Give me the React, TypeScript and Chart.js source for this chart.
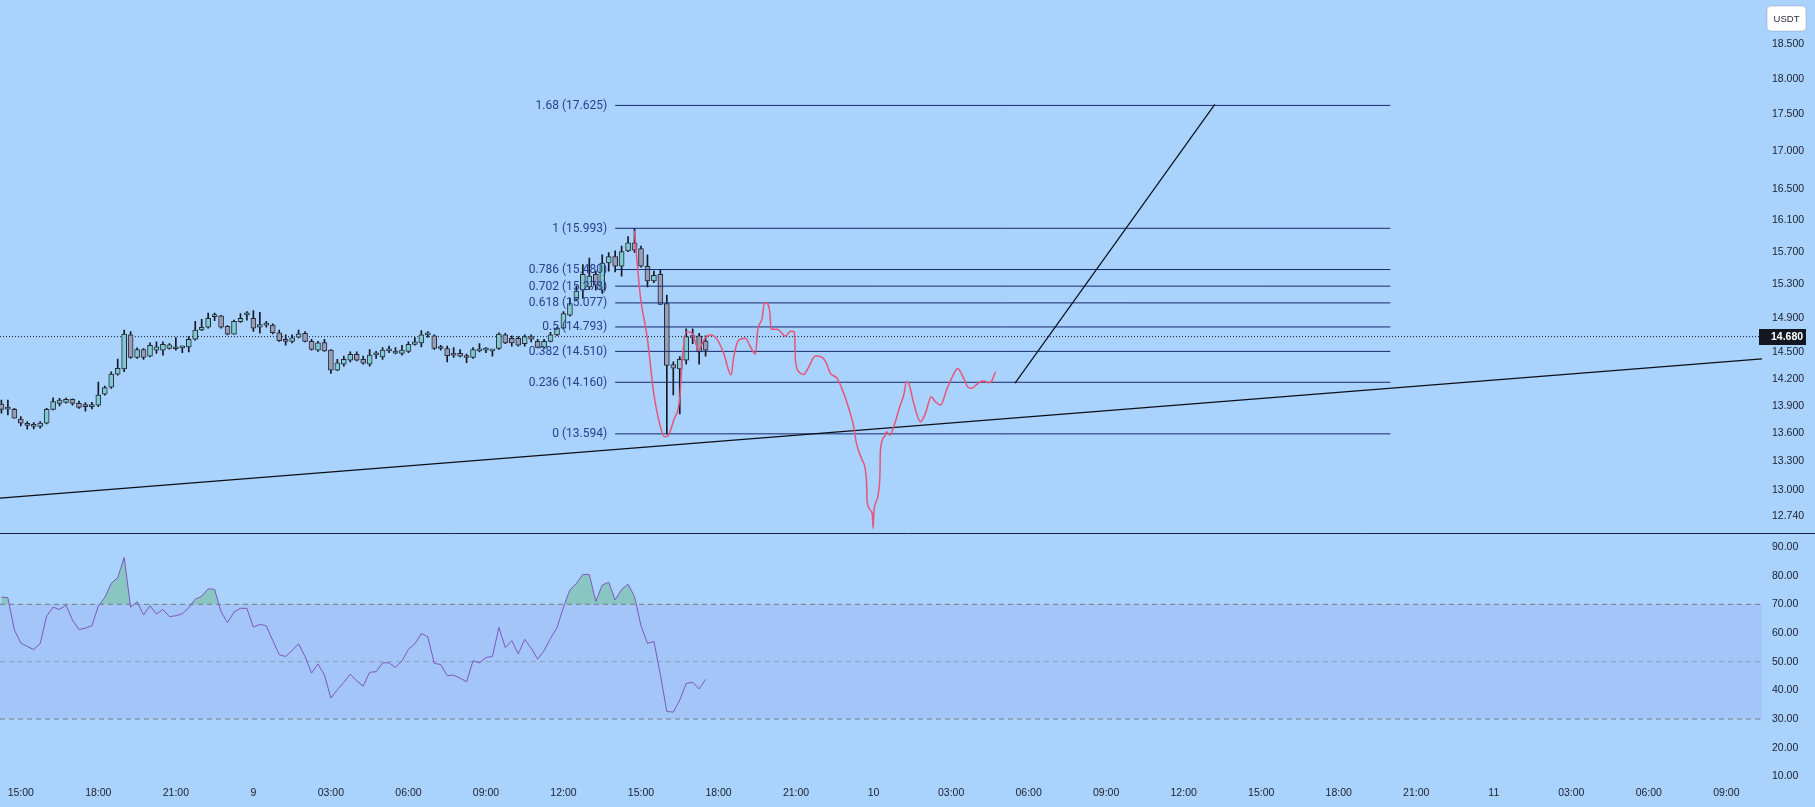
import { useEffect, useRef } from 'react';
import { Chart, registerables } from 'chart.js';

Chart.register(...registerables);

// ---------------- axes ----------------
// time in hours since day 8, 15:00
const TIME_TICKS = [0, 3, 6, 9, 12, 15, 18, 21, 24, 27, 30, 33, 36, 39, 42, 45, 48, 51, 54, 57, 60, 63, 66];
const TIME_LABELS = ['15:00', '18:00', '21:00', '9', '03:00', '06:00', '09:00', '12:00', '15:00', '18:00', '21:00', '10', '03:00', '06:00', '09:00', '12:00', '15:00', '18:00', '21:00', '11', '03:00', '06:00', '09:00'];
const X_MIN = -0.805;
const X_MAX = 67.38;

const PRICE_TICKS = [12.74, 13.0, 13.3, 13.6, 13.9, 14.2, 14.5, 14.9, 15.3, 15.7, 16.1, 16.5, 17.0, 17.5, 18.0, 18.5];
const PRICE_MIN = 12.574;
const PRICE_MAX = 19.157;

const RSI_TICKS = [10, 20, 30, 40, 50, 60, 70, 80, 90];
const RSI_MIN = 6.98;
const RSI_MAX = 95.04;

// ---------------- candles (15 min) ----------------
const CANDLE_START = -0.75;
const CANDLE_STEP = 0.25;

const OPEN = [13.918, 13.871, 13.860, 13.755, 13.695, 13.675, 13.675, 13.710, 13.860, 13.926,
  13.937, 13.970, 13.926, 13.897, 13.890, 13.905, 14.028, 14.104, 14.252, 14.309,
  14.700, 14.440, 14.530, 14.456, 14.524, 14.524, 14.543, 14.555, 14.550, 14.562,
  14.650, 14.757, 14.790, 14.915, 14.925, 14.800, 14.710, 14.854, 14.935, 14.894,
  14.790, 14.815, 14.815, 14.725, 14.645, 14.626, 14.675, 14.720, 14.626, 14.524,
  14.610, 14.524, 14.297, 14.365, 14.410, 14.477, 14.420, 14.365, 14.470, 14.448,
  14.515, 14.490, 14.487, 14.510, 14.590, 14.607, 14.700, 14.690, 14.553, 14.543,
  14.480, 14.487, 14.456, 14.440, 14.515, 14.524, 14.515, 14.543, 14.700, 14.660,
  14.660, 14.600, 14.680, 14.626, 14.555, 14.626, 14.700, 14.780, 14.930, 15.120,
  15.230, 15.270, 15.420, 15.230, 15.560, 15.640, 15.520, 15.710, 15.810, 15.740,
  15.520, 15.340, 15.420, 15.070, 14.360, 14.310, 14.410, 14.685, 14.690, 14.630];

const HIGH = [13.962, 13.962, 13.871, 13.780, 13.726, 13.715, 13.726, 13.871, 13.988, 13.981,
  13.984, 13.977, 13.951, 13.933, 13.937, 14.162, 14.118, 14.278, 14.422, 14.757,
  14.738, 14.550, 14.543, 14.607, 14.620, 14.620, 14.600, 14.670, 14.570, 14.680,
  14.860, 14.882, 14.955, 14.955, 14.930, 14.810, 14.874, 14.950, 14.975, 14.985,
  14.966, 14.860, 14.830, 14.757, 14.700, 14.700, 14.757, 14.740, 14.648, 14.626,
  14.648, 14.532, 14.418, 14.456, 14.505, 14.505, 14.456, 14.532, 14.510, 14.555,
  14.570, 14.555, 14.580, 14.620, 14.670, 14.750, 14.740, 14.700, 14.580, 14.570,
  14.555, 14.532, 14.480, 14.555, 14.600, 14.555, 14.525, 14.725, 14.718, 14.690,
  14.680, 14.700, 14.700, 14.648, 14.648, 14.730, 14.790, 14.975, 15.130, 15.280,
  15.540, 15.620, 15.460, 15.660, 15.690, 15.710, 15.770, 15.890, 15.993, 15.770,
  15.660, 15.460, 15.480, 15.170, 14.390, 14.450, 14.770, 14.770, 14.720, 14.690];

const LOW = [13.817, 13.798, 13.763, 13.680, 13.644, 13.647, 13.655, 13.700, 13.853, 13.897,
  13.929, 13.907, 13.871, 13.840, 13.864, 13.890, 14.017, 14.092, 14.240, 14.278,
  14.430, 14.430, 14.418, 14.448, 14.487, 14.468, 14.535, 14.524, 14.494, 14.505,
  14.640, 14.750, 14.780, 14.866, 14.780, 14.700, 14.710, 14.847, 14.874, 14.740,
  14.720, 14.790, 14.713, 14.626, 14.580, 14.607, 14.665, 14.618, 14.524, 14.510,
  14.510, 14.260, 14.290, 14.340, 14.390, 14.400, 14.365, 14.340, 14.430, 14.418,
  14.495, 14.480, 14.468, 14.495, 14.580, 14.562, 14.670, 14.532, 14.524, 14.390,
  14.440, 14.448, 14.380, 14.430, 14.505, 14.495, 14.456, 14.532, 14.600, 14.570,
  14.570, 14.570, 14.620, 14.550, 14.548, 14.618, 14.690, 14.770, 14.920, 15.110,
  15.130, 15.240, 15.230, 15.190, 15.460, 15.450, 15.400, 15.700, 15.690, 15.510,
  15.270, 15.320, 15.060, 13.594, 14.020, 13.810, 14.365, 14.600, 14.365, 14.456];

const CLOSE = [13.860, 13.862, 13.763, 13.710, 13.685, 13.695, 13.710, 13.860, 13.944, 13.962,
  13.970, 13.926, 13.882, 13.890, 13.905, 14.017, 14.100, 14.252, 14.317, 14.710,
  14.440, 14.530, 14.440, 14.580, 14.562, 14.590, 14.585, 14.540, 14.562, 14.648,
  14.757, 14.790, 14.894, 14.925, 14.790, 14.710, 14.860, 14.894, 14.945, 14.780,
  14.820, 14.820, 14.725, 14.633, 14.626, 14.667, 14.713, 14.626, 14.532, 14.607,
  14.515, 14.297, 14.380, 14.418, 14.475, 14.410, 14.375, 14.468, 14.475, 14.524,
  14.520, 14.510, 14.524, 14.590, 14.620, 14.700, 14.710, 14.543, 14.543, 14.460,
  14.468, 14.456, 14.440, 14.532, 14.537, 14.543, 14.520, 14.710, 14.607, 14.607,
  14.580, 14.680, 14.650, 14.555, 14.626, 14.700, 14.780, 14.950, 15.070, 15.220,
  15.420, 15.400, 15.290, 15.560, 15.640, 15.520, 15.700, 15.810, 15.720, 15.520,
  15.340, 15.410, 15.060, 14.350, 14.320, 14.420, 14.680, 14.670, 14.505, 14.524];

const RSI = [72.5, 72.3, 61.1, 56.5, 55.3, 54.2, 56.3, 65.9, 69.0, 68.2,
  69.7, 64.5, 61.2, 61.7, 62.5, 69.4, 72.4, 77.3, 79.3, 86.3,
  69.0, 70.9, 66.3, 69.5, 66.6, 68.2, 65.7, 66.0, 66.7, 68.8,
  71.8, 72.8, 75.4, 75.2, 67.4, 63.6, 67.3, 68.6, 68.6, 62.0,
  63.0, 62.5, 57.4, 52.4, 51.8, 53.9, 56.2, 51.8, 46.0, 49.2,
  45.3, 37.3, 40.2, 42.8, 45.6, 43.3, 41.5, 46.3, 46.5, 49.6,
  49.6, 48.0, 50.2, 54.3, 56.2, 59.8, 58.7, 49.4, 49.0, 45.1,
  45.3, 44.2, 43.0, 50.3, 49.6, 51.4, 51.8, 61.9, 54.9, 57.3,
  52.7, 57.8, 54.7, 50.9, 53.8, 58.1, 61.9, 69.0, 75.0, 77.3,
  80.4, 80.4, 71.0, 76.7, 77.7, 71.5, 75.2, 77.0, 72.7, 62.5,
  56.4, 57.0, 45.5, 32.6, 32.4, 36.6, 42.4, 42.8, 40.5, 43.8];

const LAST_PRICE = 14.68;

// ---------------- drawings ----------------
const FIB_LEVELS = [1.68, 1, 0.786, 0.702, 0.618, 0.5, 0.382, 0.236, 0];
const FIB_PRICES = [17.625, 15.993, 15.48, 15.278, 15.077, 14.793, 14.51, 14.16, 13.594];
const FIB_T = [23, 53];

const TREND_LONG_T = [-0.805, 67.38];
const TREND_LONG_P = [12.92, 14.425];
const TREND_UP_T = [38.475, 46.204];
const TREND_UP_P = [14.15, 17.64];

const BRUSH_T = [23.746, 23.978, 24.238, 24.493, 24.752, 24.907, 25.035, 25.267, 25.499, 25.604,
  25.759, 25.979, 26.235, 26.428, 26.687, 26.947, 27.202, 27.488, 27.589, 27.783,
  28.042, 28.235, 28.429, 28.518, 28.688, 28.777, 28.882, 28.982, 29.036, 29.269,
  29.590, 29.783, 29.938, 29.977, 30.104, 30.298, 30.491, 30.750, 31.010, 31.176,
  31.331, 31.591, 31.846, 32.040, 32.233, 32.338, 32.558, 32.725, 32.752, 32.945,
  32.984, 33.007, 33.073, 33.239, 33.266, 33.421, 33.498, 33.626, 33.781, 34.013,
  34.168, 34.272, 34.361, 34.555, 34.814, 35.008, 35.228, 35.395, 35.588, 35.847,
  36.080, 36.258, 36.428, 36.622, 36.776, 37.009, 37.241, 37.458, 37.551, 37.717];
const BRUSH_P = [15.961, 15.150, 14.678, 14.036, 13.671, 13.563, 13.570, 13.744, 13.981, 14.448,
  14.737, 14.718, 14.524, 14.640, 14.698, 14.648, 14.487, 14.241, 14.448, 14.640,
  14.660, 14.563, 14.479, 14.757, 14.893, 15.078, 15.071, 14.971, 14.765, 14.765,
  14.687, 14.742, 14.734, 14.411, 14.278, 14.248, 14.334, 14.456, 14.441, 14.373,
  14.259, 14.204, 14.036, 13.871, 13.671, 13.492, 13.315, 13.107, 12.883, 12.766,
  12.615, 12.766, 12.867, 13.107, 13.421, 13.563, 13.617, 13.580, 13.671, 13.889,
  14.018, 14.165, 14.147, 13.926, 13.725, 13.816, 13.999, 13.943, 13.907, 14.092,
  14.241, 14.316, 14.241, 14.117, 14.092, 14.140, 14.177, 14.155, 14.165, 14.278];

// ---------------- styles ----------------
const BG = '#a9d2fd';
const TEXT = '#1b1f2b';
const UP = '#80cad2';
const DOWN = '#9a9db7';
const CANDLE_BORDER = '#262a36';
const WICK = '#161924';
const FIB_LINE = '#17296b';
const FIB_TEXT = '#29408e';
const FONT_AXIS = "'Liberation Sans', Arial, sans-serif";
const FONT_FIB = "Roboto, 'Noto Sans', sans-serif";

const overlayPlugin = {
  id: 'overlay',
  beforeDraw(chart: any) {
    const { ctx } = chart;
    ctx.save();
    ctx.fillStyle = BG;
    ctx.fillRect(0, 0, chart.width, chart.height);
    ctx.restore();
  },
  afterDraw(chart: any) {
    const { ctx } = chart;
    const xs = chart.scales.x;
    const ys = chart.scales.y;
    ctx.save();
    // pane separator
    const sepY = Math.round(ys.bottom) + 0.5;
    ctx.strokeStyle = '#18213f';
    ctx.lineWidth = 1;
    ctx.beginPath();
    ctx.moveTo(0, sepY);
    ctx.lineTo(chart.width, sepY);
    ctx.stroke();
    // fib labels
    ctx.font = `12px ${FONT_FIB}`;
    ctx.fillStyle = FIB_TEXT;
    ctx.textAlign = 'right';
    ctx.textBaseline = 'middle';
    const lx = xs.getPixelForValue(FIB_T[0]) - 8;
    FIB_LEVELS.forEach((lv, i) => {
      ctx.fillText(`${lv} (${FIB_PRICES[i].toFixed(3)})`, lx, ys.getPixelForValue(FIB_PRICES[i]) + 0.5);
    });
    // last price tag
    const py = ys.getPixelForValue(LAST_PRICE);
    ctx.fillStyle = '#131722';
    ctx.fillRect(xs.right - 3, Math.round(py) - 8, 47, 16);
    ctx.fillStyle = '#ffffff';
    ctx.font = `bold 10.5px ${FONT_AXIS}`;
    ctx.textAlign = 'left';
    ctx.fillText(LAST_PRICE.toFixed(3), xs.right + 9, py + 0.5);
    // currency badge
    const bx = 1767, by = 6, bw = 39, bh = 25, r = 4;
    ctx.beginPath();
    ctx.moveTo(bx + r, by);
    ctx.arcTo(bx + bw, by, bx + bw, by + bh, r);
    ctx.arcTo(bx + bw, by + bh, bx, by + bh, r);
    ctx.arcTo(bx, by + bh, bx, by, r);
    ctx.arcTo(bx, by, bx + bw, by, r);
    ctx.closePath();
    ctx.fillStyle = '#ffffff';
    ctx.fill();
    ctx.strokeStyle = 'rgba(120,130,150,0.35)';
    ctx.stroke();
    ctx.fillStyle = '#2a2e39';
    ctx.font = `9.5px ${FONT_AXIS}`;
    ctx.textAlign = 'center';
    ctx.fillText('USDT', bx + bw / 2, by + bh / 2 + 0.5);
    ctx.restore();
  },
};

function hLine(t0: number, t1: number, v: number) {
  return [{ x: t0, y: v }, { x: t1, y: v }];
}

export default function App() {
  const ref = useRef<HTMLCanvasElement>(null);

  useEffect(() => {
    const candleT = OPEN.map((_, i) => CANDLE_START + i * CANDLE_STEP);
    const wickData = candleT.map((t, i) => ({ x: t, y: [LOW[i], HIGH[i]] }));
    const bodyData = candleT.map((t, i) => ({ x: t, y: [OPEN[i], CLOSE[i]] }));
    const bodyColors = OPEN.map((o, i) => (CLOSE[i] >= o ? UP : DOWN));
    const rsiData = candleT.map((t, i) => ({ x: t, y: RSI[i] }));
    const brushData = BRUSH_T.map((t, i) => ({ x: t, y: BRUSH_P[i] }));

    const line = (extra: any) => ({
      type: 'line',
      pointRadius: 0,
      borderWidth: 1,
      fill: false,
      tension: 0,
      ...extra,
    });

    const datasets: any[] = [
      line({ yAxisID: 'y2', data: hLine(X_MIN, X_MAX, 70), borderWidth: 0, borderColor: 'rgba(0,0,0,0)',
        fill: { target: { value: 30 } }, backgroundColor: 'rgba(126,87,194,0.1)', order: 100 }),
      line({ yAxisID: 'y2', data: hLine(X_MIN, X_MAX, 70), borderColor: '#787b86', borderDash: [5, 4], order: 90 }),
      line({ yAxisID: 'y2', data: hLine(X_MIN, X_MAX, 50), borderColor: 'rgba(120,123,134,0.5)', borderDash: [5, 4], order: 90 }),
      line({ yAxisID: 'y2', data: hLine(X_MIN, X_MAX, 30), borderColor: '#787b86', borderDash: [5, 4], order: 90 }),
      line({ yAxisID: 'y', data: hLine(X_MIN, X_MAX, LAST_PRICE), borderColor: '#131722', borderDash: [1, 2], order: 85 }),
      {
        type: 'bar', yAxisID: 'y', data: wickData, backgroundColor: WICK, barThickness: 1,
        grouped: false, borderWidth: 0, order: 60,
      },
      {
        type: 'bar', yAxisID: 'y', data: bodyData, backgroundColor: bodyColors, borderColor: CANDLE_BORDER,
        borderWidth: 1, borderSkipped: false, barThickness: 5, minBarLength: 2, grouped: false, order: 55,
      },
      ...FIB_PRICES.map((p) => line({ yAxisID: 'y', data: hLine(FIB_T[0], FIB_T[1], p), borderColor: FIB_LINE, order: 40 })),
      line({ yAxisID: 'y', data: TREND_LONG_T.map((t, i) => ({ x: t, y: TREND_LONG_P[i] })), borderColor: '#0c0f18', borderWidth: 1.2, order: 35 }),
      line({ yAxisID: 'y', data: TREND_UP_T.map((t, i) => ({ x: t, y: TREND_UP_P[i] })), borderColor: '#0c0f18', borderWidth: 1.2, order: 35 }),
      line({ yAxisID: 'y', data: brushData, borderColor: '#e9557a', borderWidth: 1.5, cubicInterpolationMode: 'monotone', order: 30 }),
      line({ yAxisID: 'y2', data: rsiData, borderColor: '#7e57c2', borderWidth: 1,
        fill: { target: { value: 70 }, above: 'rgba(76,175,80,0.35)', below: 'rgba(0,0,0,0)' }, order: 20 }),
    ];

    const axisFont = { family: FONT_AXIS, size: 10.5 };

    const chart = new Chart(ref.current as HTMLCanvasElement, {
      type: 'bar',
      data: { datasets },
      plugins: [overlayPlugin],
      options: {
        animation: false,
        responsive: false,
        devicePixelRatio: 1,
        events: [],
        layout: { padding: 0, autoPadding: false },
        plugins: { legend: { display: false }, tooltip: { enabled: false } },
        scales: {
          x: {
            type: 'linear', position: 'bottom', min: X_MIN, max: X_MAX, offset: false, bounds: 'data',
            grid: { display: false, drawTicks: false }, border: { display: false },
            afterBuildTicks: (s: any) => { s.ticks = TIME_TICKS.map((v) => ({ value: v })); },
            afterFit: (s: any) => { s.height = 22; s.paddingLeft = 0; s.paddingRight = 0; },
            ticks: {
              autoSkip: false, maxRotation: 0, minRotation: 0, padding: 2, color: TEXT, font: axisFont,
              callback: (v: any) => { const k = TIME_TICKS.indexOf(Number(v)); return k >= 0 ? TIME_LABELS[k] : ''; },
            },
          },
          y: {
            type: 'logarithmic', position: 'right', stack: 'panes', stackWeight: 532.5,
            min: PRICE_MIN, max: PRICE_MAX, bounds: 'data',
            grid: { display: false, drawTicks: false }, border: { display: false },
            afterBuildTicks: (s: any) => { s.ticks = PRICE_TICKS.map((v) => ({ value: v })); },
            afterFit: (s: any) => { s.width = 53; s.paddingTop = 0; s.paddingBottom = 0; },
            ticks: { autoSkip: false, padding: 10, color: TEXT, font: axisFont,
              callback: (v: any) => Number(v).toFixed(3) },
          },
          y2: {
            type: 'linear', position: 'right', stack: 'panes', stackWeight: 252.5,
            min: RSI_MIN, max: RSI_MAX, bounds: 'data',
            grid: { display: false, drawTicks: false }, border: { display: false },
            afterBuildTicks: (s: any) => { s.ticks = RSI_TICKS.map((v) => ({ value: v })); },
            afterFit: (s: any) => { s.width = 53; s.paddingTop = 0; s.paddingBottom = 0; },
            ticks: { autoSkip: false, padding: 10, color: TEXT, font: axisFont,
              callback: (v: any) => Number(v).toFixed(2) },
          },
        },
      } as any,
    } as any);

    return () => chart.destroy();
  }, []);

  return (
    <div style={{ position: 'fixed', left: 0, top: 0, width: 1815, height: 807, background: BG }}>
      <canvas ref={ref} width={1815} height={807} style={{ display: 'block', width: 1815, height: 807 }} />
    </div>
  );
}
